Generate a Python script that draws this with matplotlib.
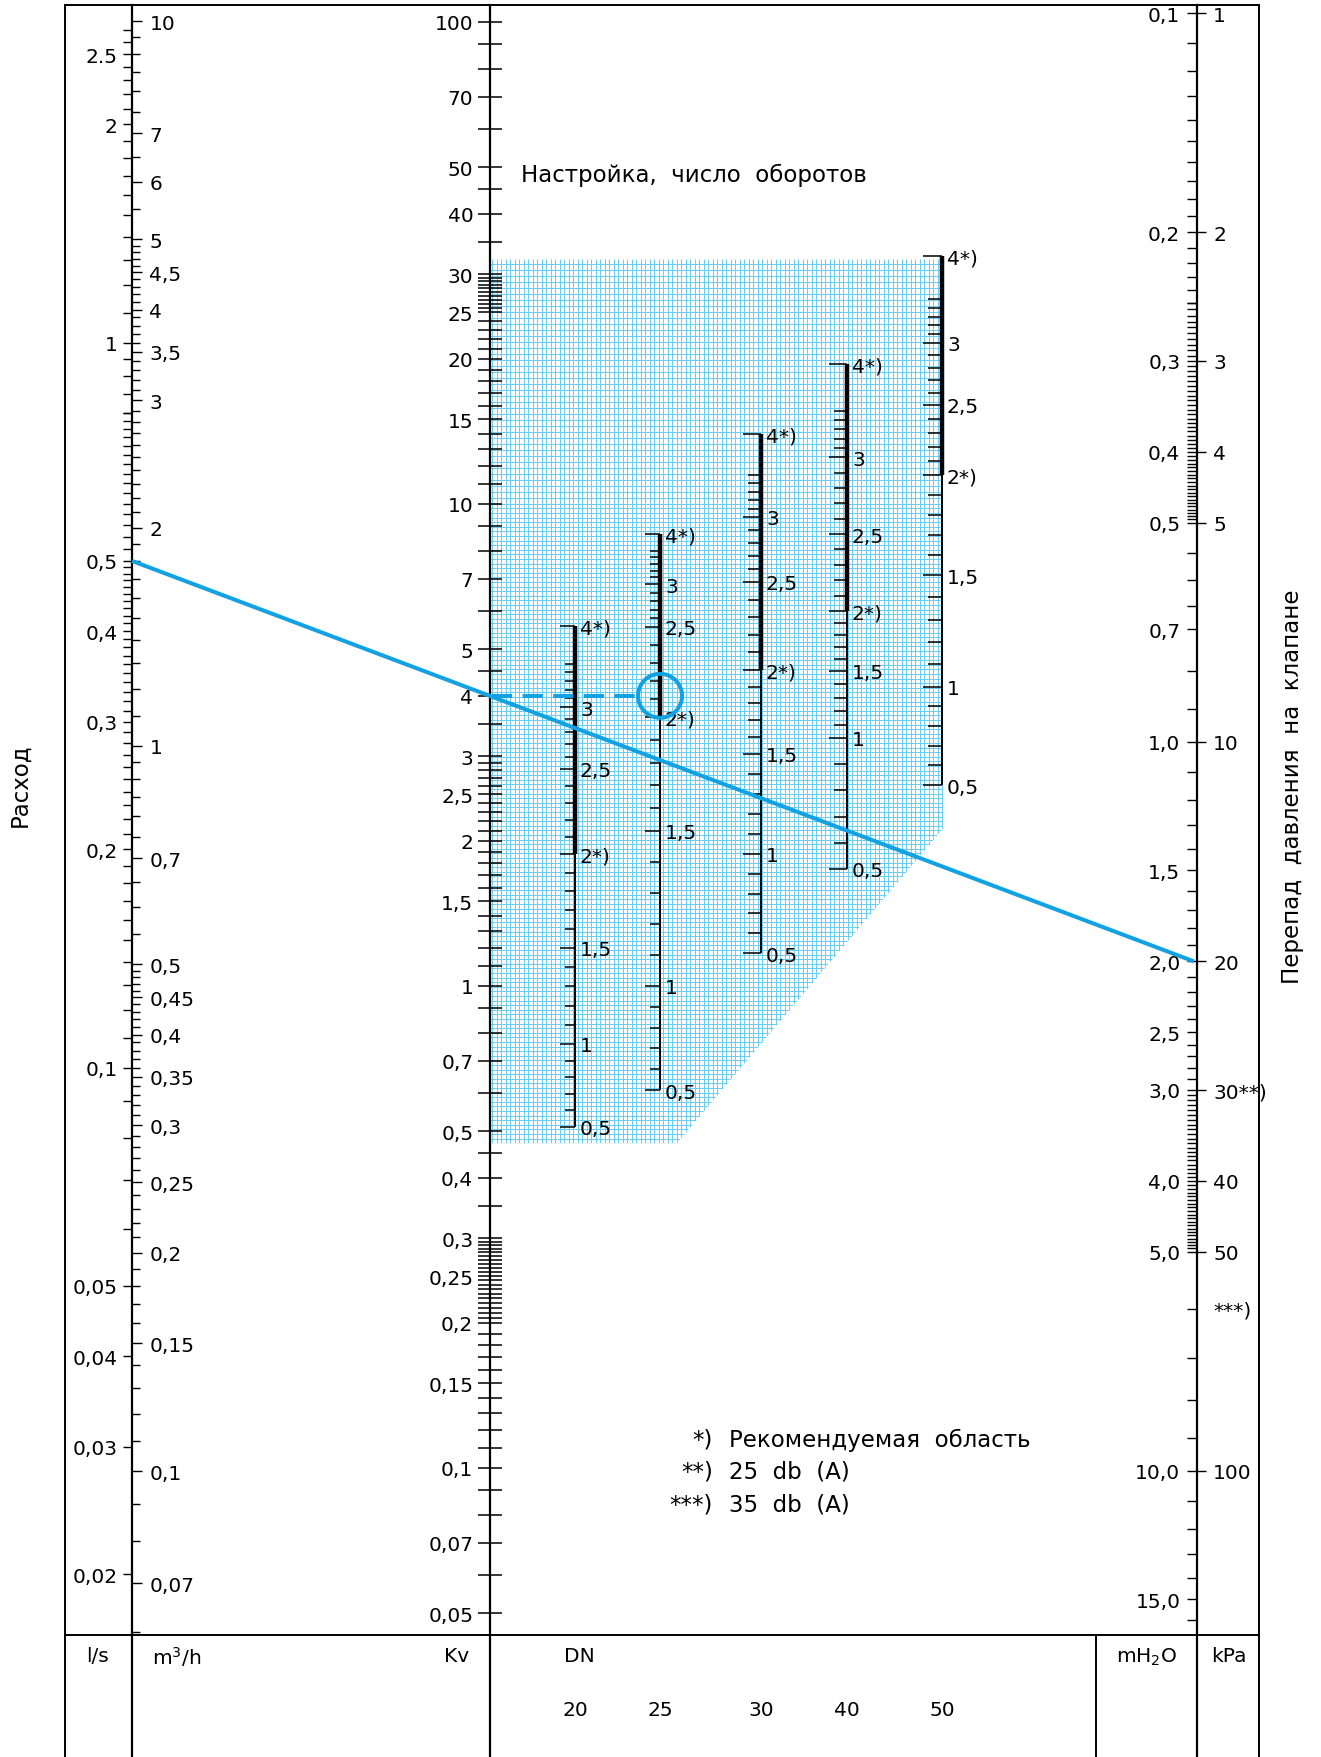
import numpy as np
import matplotlib
matplotlib.use('Agg')
import matplotlib.pyplot as plt
from matplotlib.ticker import NullFormatter
from matplotlib.patches import Polygon, Circle
from matplotlib.transforms import blended_transform_factory

plt.rcParams['font.family'] = ['DejaVu Sans']
plt.rcParams['mathtext.fontset'] = 'dejavusans'


def steps(a, b, d):
    return list(np.round(np.arange(a, b + d / 2, d), 4))


# flow scale: m3/h on the right side, l/s on the left side
flow_m3h_ticks = [10, 7, 6, 5, 4.5, 4, 3.5, 3, 2, 1, 0.7, 0.5, 0.45, 0.4, 0.35, 0.3, 0.25, 0.2, 0.15, 0.1, 0.07]
flow_m3h_labels = ['10', '7', '6', '5', '4,5', '4', '3,5', '3', '2', '1', '0,7', '0,5', '0,45', '0,4', '0,35',
                   '0,3', '0,25', '0,2', '0,15', '0,1', '0,07']
flow_m3h_minor = steps(0.06, 0.5, 0.01) + steps(0.5, 1, 0.05) + steps(1, 5, 0.1) + steps(5, 10, 0.5)
flow_ls_ticks = [2.5, 2, 1, 0.5, 0.4, 0.3, 0.2, 0.1, 0.05, 0.04, 0.03, 0.02]
flow_ls_labels = ['2.5', '2', '1', '0,5', '0,4', '0,3', '0,2', '0,1', '0,05', '0,04', '0,03', '0,02']
flow_ls_minor = (steps(0.02, 0.5, 0.01) + steps(0.5, 0.8, 0.02) + steps(0.8, 1, 0.05) + steps(1, 2.7, 0.1))

# Kv scale
kv_ticks = [100, 70, 50, 40, 30, 25, 20, 15, 10, 7, 5, 4, 3, 2.5, 2, 1.5, 1, 0.7, 0.5, 0.4, 0.3, 0.25, 0.2,
            0.15, 0.1, 0.07, 0.05]
kv_labels = ['100', '70', '50', '40', '30', '25', '20', '15', '10', '7', '5', '4', '3', '2,5', '2', '1,5', '1',
             '0,7', '0,5', '0,4', '0,3', '0,25', '0,2', '0,15', '0,1', '0,07', '0,05']
kv_minor = (steps(0.05, 0.2, 0.01) + steps(0.2, 0.3, 0.005) + steps(0.3, 0.5, 0.05) + steps(0.5, 3, 0.1)
            + steps(3, 5, 0.5) + steps(5, 25, 1) + steps(25, 30, 0.5) + steps(30, 50, 5) + steps(50, 100, 10))

# pressure drop: mH2O on the left side, kPa on the right side
dp_mh2o_ticks = [0.1, 0.2, 0.3, 0.4, 0.5, 0.7, 1, 1.5, 2, 2.5, 3, 4, 5, 10, 15]
dp_mh2o_labels = ['0,1', '0,2', '0,3', '0,4', '0,5', '0,7', '1,0', '1,5', '2,0', '2,5', '3,0', '4,0', '5,0',
                  '10,0', '15,0']
dp_mh2o_minor = (steps(0.1, 0.25, 0.01) + steps(0.25, 0.5, 0.005) + steps(0.5, 0.7, 0.05) + steps(0.7, 3, 0.1)
                 + steps(3, 5, 0.05) + steps(5, 16, 1))
dp_kpa_ticks = [1, 2, 3, 4, 5, 10, 20, 30, 40, 50, 100]
dp_kpa_labels = ['1', '2', '3', '4', '5', '10', '20', '30**)', '40', '50', '100']
dp_kpa_note = 60  # ***) mark

# valve presetting (revolutions) -> Kv, per DN
settings = [0.5, 1, 1.5, 2, 2.5, 3, 3.5, 4]
setting_labels = ['0,5', '1', '1,5', '2*)', '2,5', '3', '', '4*)']
dn_sizes = [20, 25, 30, 40, 50]
kv_dn20 = [0.51, 0.758, 1.20, 1.88, 2.82, 3.79, 4.66, 5.58]
kv_dn25 = [0.608, 1.00, 2.10, 3.61, 5.56, 6.82, 8.00, 8.66]
kv_dn30 = [1.17, 1.88, 3.03, 4.53, 6.89, 9.40, 11.5, 14.0]
kv_dn40 = [1.75, 3.27, 4.51, 6.00, 8.66, 12.5, 15.6, 19.5]
kv_dn50 = [2.61, 4.18, 7.12, 11.5, 16.05, 21.6, 26.6, 32.7]
kv_dn = [kv_dn20, kv_dn25, kv_dn30, kv_dn40, kv_dn50]
dn_tick_len = [(10.5, 7.5), (10.5, 7.5), (13, 9.5), (13, 9.5), (14, 10)]

# worked example
example_flow_ls = 0.5
example_dp_kpa = 20
example_kv = 4.0
example_dn = 25

legend_marks = ['*)', '**)', '***)']
legend_texts = ['Рекомендуемая  область', '25  db  (A)', '35  db  (A)']

# layout (pixels)
W, H = 1321, 1758
TOP = 6
FOOT = 1636
X_LEFT, X_RIGHT = 65, 1259
X_FLOW, X_KV, X_DP = 132, 490, 1197
X_DN = [575, 660, 761, 847, 942]
X_GRID_R, X_GRID_CUT = 943, 677
grid_kv_top, grid_kv_corner, grid_kv_bottom = 32.3, 2.12, 0.472
FS = 14.5
FT = 16.5
BLUE = '#12a2e3'
GRIDBLUE = '#6ccdf1'

fig = plt.figure(figsize=(W / 100, H / 100), dpi=100)
fig.patch.set_facecolor('white')


def lims_up(y_at_1, decade):
    return 10 ** ((y_at_1 - H) / decade), 10 ** ((y_at_1 - TOP) / decade)


def lims_down(y_at_1, decade, f=1.0):
    return 10 ** ((H - y_at_1) / decade) * f, 10 ** ((TOP - y_at_1) / decade) * f


def scale_axes(x_px, lims, z=3):
    ax = fig.add_axes([x_px / W, 0, 0.0001, (H - TOP) / H], zorder=z)
    ax.set_yscale('log')
    ax.set_ylim(*lims)
    ax.patch.set_visible(False)
    ax.set_xticks([])
    for s in ax.spines.values():
        s.set_visible(False)
    ax.yaxis.set_minor_formatter(NullFormatter())
    return ax


q_lims = lims_up(747, 725)
kv_lims = lims_up(987, 482)

# flow, m3/h
ax_q = scale_axes(X_FLOW, q_lims)
ax_q.spines['right'].set_visible(True)
ax_q.spines['right'].set_linewidth(1.6)
ax_q.yaxis.set_ticks_position('right')
ax_q.set_yticks(flow_m3h_ticks, flow_m3h_labels)
ax_q.set_yticks(flow_m3h_minor, minor=True)
ax_q.tick_params(axis='y', which='both', direction='out', width=1.0, labelsize=FS, pad=5,
                 left=False, labelleft=False, right=True, labelright=True)
ax_q.tick_params(axis='y', which='major', length=7.5)
ax_q.tick_params(axis='y', which='minor', length=5.5)

# flow, l/s
ax_ls = scale_axes(X_FLOW, (q_lims[0] / 3.6, q_lims[1] / 3.6))
ax_ls.set_yticks(flow_ls_ticks, flow_ls_labels)
ax_ls.set_yticks(flow_ls_minor, minor=True)
ax_ls.tick_params(axis='y', which='both', direction='out', width=1.0, length=6.5, labelsize=FS, pad=4,
                  left=True, labelleft=True, right=False, labelright=False)

# Kv
ax_kv = scale_axes(X_KV, kv_lims)
ax_kv.spines['left'].set_visible(True)
ax_kv.spines['left'].set_linewidth(1.6)
ax_kv.set_yticks(kv_ticks, kv_labels)
ax_kv.set_yticks(kv_minor, minor=True)
ax_kv.tick_params(axis='y', which='both', direction='inout', length=17, width=1.1, labelsize=FS, pad=3.5)

# pressure drop
ax_m = scale_axes(X_DP, lims_down(14, 729, 0.1))
ax_m.spines['left'].set_visible(True)
ax_m.spines['left'].set_linewidth(1.6)
ax_m.set_yticks(dp_mh2o_ticks, dp_mh2o_labels)
ax_m.set_yticks(dp_mh2o_minor, minor=True)
ax_m.tick_params(axis='y', which='both', direction='out', length=7, width=1.0, labelsize=FS, pad=5)

ax_k = scale_axes(X_DP, lims_down(14, 729))
ax_k.yaxis.set_ticks_position('right')
ax_k.set_yticks(dp_kpa_ticks, dp_kpa_labels)
ax_k.set_yticks([], minor=True)
ax_k.tick_params(axis='y', which='both', direction='out', length=6.5, width=1.0, labelsize=FS, pad=5,
                 left=False, labelleft=False, right=True, labelright=True)

# presetting scales
dn_axes = []
for x, kv, (lmaj, lmin) in zip(X_DN, kv_dn, dn_tick_len):
    ax = scale_axes(x, kv_lims, z=4)
    logkv = np.log10(kv)
    major = [(v, lab) for v, lab in zip(kv, setting_labels) if lab]
    ax.set_yticks([m[0] for m in major], [m[1] for m in major])
    fine = [s for s in steps(0.5, 3.5, 0.1) if s not in settings]
    ax.set_yticks(10 ** np.interp(fine + [3.5], settings, logkv), minor=True)
    ax.tick_params(axis='y', which='both', direction='in', width=1.1, labelsize=FS, pad=3.5,
                   left=False, labelleft=False, right=True, labelright=True)
    ax.tick_params(axis='y', which='major', length=lmaj)
    ax.tick_params(axis='y', which='minor', length=lmin)
    tr = blended_transform_factory(ax.transAxes, ax.transData)
    ax.plot([1, 1], [kv[0], kv[3]], color='black', lw=1.4, transform=tr, clip_on=False,
            solid_capstyle='butt')
    ax.plot([1, 1], [kv[3], kv[-1]], color='black', lw=3.2, transform=tr, clip_on=False,
            solid_capstyle='butt')
    ax.set_ylim(*kv_lims)
    dn_axes.append(ax)

# blue grid of the working area
ax_g = fig.add_axes([X_KV / W, 0, (X_GRID_R - X_KV) / W, (H - TOP) / H], zorder=1)
ax_g.set_yscale('log')
ax_g.set_ylim(*kv_lims)
ax_g.set_xlim(X_KV, X_GRID_R)
ax_g.axis('off')
area = Polygon([(X_KV, grid_kv_top), (X_GRID_R, grid_kv_top), (X_GRID_R, grid_kv_corner),
                (X_GRID_CUT, grid_kv_bottom), (X_KV, grid_kv_bottom)],
               closed=True, facecolor='none', edgecolor='none', transform=ax_g.transData)
ax_g.add_patch(area)
rows_low = 10 ** np.arange(np.log10(grid_kv_bottom), 1, 4.6 / 482)
rows_high = 10 ** np.arange(1, np.log10(grid_kv_top), 6.0 / 482)
vl = ax_g.vlines(np.arange(X_KV + 2, X_GRID_R + 1, 4.5), grid_kv_bottom, grid_kv_top, colors=GRIDBLUE, lw=0.75)
hl = ax_g.hlines(np.concatenate([rows_low, rows_high]), X_KV, X_GRID_R, colors=GRIDBLUE, lw=0.75)
vl.set_clip_path(area)
hl.set_clip_path(area)

# overlay in pixel coordinates: frame, texts, example
ax_top = fig.add_axes([0, 0, 1, 1], zorder=10)
ax_top.set_xlim(0, W)
ax_top.set_ylim(H, 0)
ax_top.axis('off')


def to_px(ax, v):
    return ax_top.transData.inverted().transform(ax.transData.transform((0, v)))


for xs, ys in [([X_LEFT, X_LEFT], [TOP, H]), ([X_LEFT, X_RIGHT], [TOP, TOP]), ([X_RIGHT, X_RIGHT], [TOP, H]),
               ([X_LEFT, X_RIGHT], [FOOT, FOOT]), ([1096, 1096], [FOOT, H])]:
    ax_top.plot(xs, ys, color='black', lw=1.4, solid_capstyle='projecting')

p1 = to_px(ax_ls, example_flow_ls)
p2 = to_px(ax_k, example_dp_kpa)
ax_top.plot([p1[0], p2[0] - 3], [p1[1], p2[1]], color=BLUE, lw=2.9, solid_capstyle='butt')
pk = to_px(ax_kv, example_kv)
pd = to_px(dn_axes[dn_sizes.index(example_dn)], example_kv)
r = 22
ax_top.plot([pk[0] + 2, pd[0] - r], [pk[1], pk[1]], color=BLUE, lw=2.9, linestyle=(0, (5, 2.6)))
ax_top.add_patch(Circle((pd[0], pd[1]), r, facecolor='none', edgecolor=BLUE, lw=2.9))

pn = to_px(ax_k, dp_kpa_note)
ax_top.text(pn[0] + 16, pn[1] + 1, '***)', fontsize=FS, va='center', ha='left')

ax_top.text(521, 175, 'Настройка,  число  оборотов', fontsize=FT, va='center', ha='left')
for i, (mk, tx) in enumerate(zip(legend_marks, legend_texts)):
    y = 1440 + i * 32.5
    ax_top.text(713, y, mk, fontsize=FT, va='center', ha='right')
    ax_top.text(729, y, tx, fontsize=FT, va='center', ha='left')

ax_top.text(20, 785, 'Расход', fontsize=FT, rotation=90, va='center', ha='center')
ax_top.text(1293, 787, 'Перепад  давления  на  клапане', fontsize=FT, rotation=90, va='center', ha='center')

for x, lab, ha in [(98, 'l/s', 'center'), (152, 'm$^3$/h', 'left'), (457, 'Kv', 'center'), (579, 'DN', 'center'),
                   (1147, 'mH$_2$O', 'center'), (1229, 'kPa', 'center')]:
    ax_top.text(x, 1657, lab, fontsize=FS, va='center', ha=ha)
for x, d in zip(X_DN, dn_sizes):
    ax_top.text(x, 1711, str(d), fontsize=FS, va='center', ha='center')

fig.savefig('out.png', dpi=100, facecolor='white')
